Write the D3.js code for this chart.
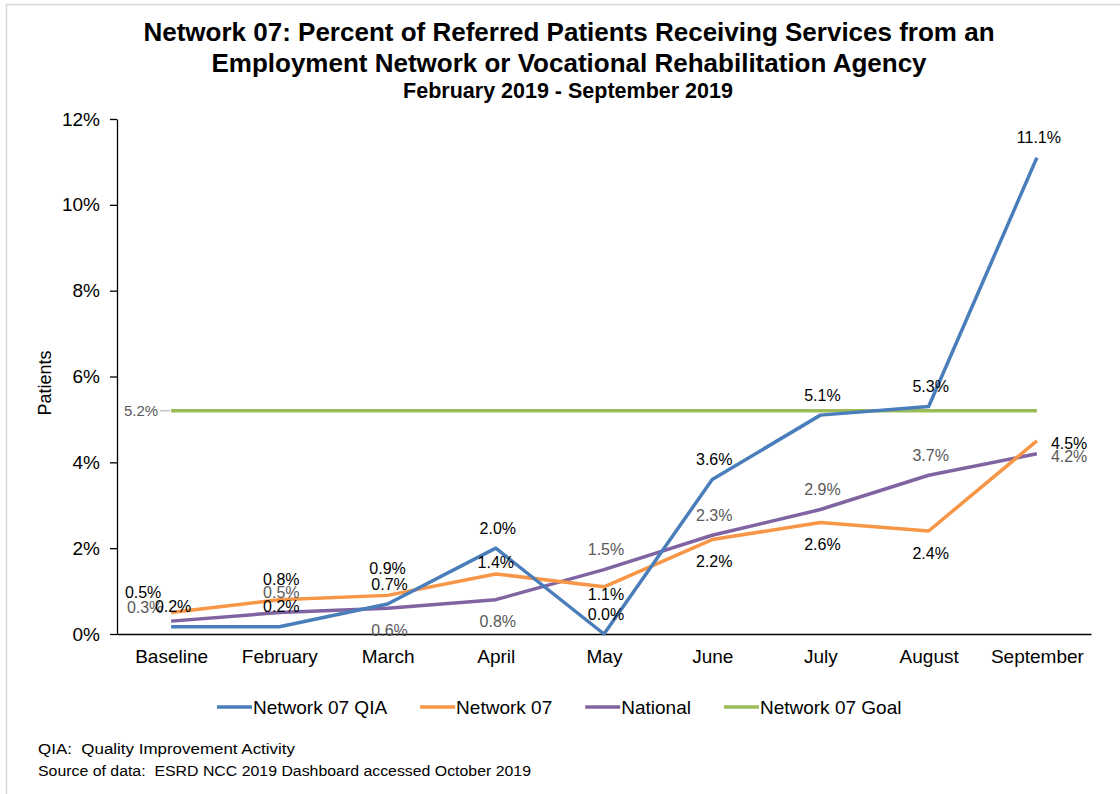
<!DOCTYPE html>
<html>
<head>
<meta charset="utf-8">
<script src="https://cdn.jsdelivr.net/npm/d3@7"></script>
<style>
body { margin:0; background:#fff; }
svg { font-family:"Liberation Sans", Arial, sans-serif; }
.yax text, .xax text { font-size:19px; fill:#000; }
.yax path, .yax line, .xax path { stroke:#000; stroke-width:1.3; }
.lbl { font-size:16px; }
</style>
</head>
<body>
<div id="chart"></div>
<script>

var categories = ["Baseline","February","March","April","May","June","July","August","September"];
var qia      = [0.17, 0.17, 0.7, 2.0, 0.0, 3.6, 5.1, 5.3, 11.1];
var network  = [0.5, 0.8, 0.9, 1.4, 1.1, 2.2, 2.6, 2.4, 4.5];
var national = [0.3, 0.5, 0.6, 0.8, 1.5, 2.3, 2.9, 3.7, 4.2];
var goal     = [5.2, 5.2, 5.2, 5.2, 5.2, 5.2, 5.2, 5.2, 5.2];
var yTicks   = [0, 2, 4, 6, 8, 10, 12];
var seriesNames = ["Network 07 QIA", "Network 07", "National", "Network 07 Goal"];

// where each data label sits relative to its point
var qiaLabelPos      = ["t","t","t","t","t","t","t","t","t"];
var networkLabelPos  = ["tl","t","t2","ts","bs","b","b","b","r"];
var nationalLabelPos = ["l","t","b","b","t","t","t","t","r"];

var W = 1120, H = 794;
var pLeft = 117, pRight = 1091, pTop = 119, pBottom = 634;

var svg = d3.select("#chart").append("svg")
	.attr("width", W)
	.attr("height", H);

// frame
svg.append("path").attr("d", "M6.5,794V4.5H1120")
	.attr("fill", "none").attr("stroke", "#d9d9d9").attr("stroke-width", 1.5);

var x = d3.scalePoint().domain(categories).range([pLeft, pRight]).padding(0.5);
var y = d3.scaleLinear().domain([0, 12]).range([pBottom, pTop]);

// titles
svg.append("text").attr("x", 569).attr("y", 41).attr("text-anchor", "middle")
	.style("font-size", "26px").style("font-weight", "bold")
	.text("Network 07: Percent of Referred Patients Receiving Services from an");
svg.append("text").attr("x", 569).attr("y", 72).attr("text-anchor", "middle")
	.style("font-size", "26px").style("font-weight", "bold")
	.text("Employment Network or Vocational Rehabilitation Agency");
svg.append("text").attr("x", 568).attr("y", 98).attr("text-anchor", "middle")
	.style("font-size", "21.5px").style("font-weight", "bold")
	.text("February 2019 - September 2019");

svg.append("g").attr("class", "yax")
	.attr("transform", "translate(" + pLeft + ",0)")
	.call(d3.axisLeft(y).tickValues(yTicks).tickSize(7).tickSizeOuter(0).tickPadding(10)
		.tickFormat(function(d) { return d + "%"; }));

svg.append("g").attr("class", "xax")
	.attr("transform", "translate(0," + pBottom + ")")
	.call(d3.axisBottom(x).tickSize(0).tickPadding(16));

svg.append("text")
	.attr("transform", "translate(51,383) rotate(-90)")
	.attr("text-anchor", "middle")
	.style("font-size", "18px")
	.text("Patients");

var valueline = d3.line()
	.x(function(d, i) { return x(categories[i]); })
	.y(function(d) { return y(d); });

var series = [
	{ v: qia,      c: "#4a7ebb", lc: "#000",    pos: qiaLabelPos },
	{ v: network,  c: "#f79646", lc: "#000",    pos: networkLabelPos },
	{ v: national, c: "#8064a2", lc: "#595959", pos: nationalLabelPos },
	{ v: goal,     c: "#9bbb59", lc: "#595959", pos: null }
];

var drawOrder = [3, 2, 1, 0];
drawOrder.forEach(function(k) {
	svg.append("path").datum(series[k].v)
		.attr("fill", "none")
		.attr("stroke", series[k].c)
		.attr("stroke-width", 3.5)
		.attr("stroke-linejoin", "round")
		.attr("d", valueline);
});

var offs = {
	t:  [2, -20, "middle"],
	t2: [0, -27, "middle"],
	ts: [0, -12, "middle"],
	b:  [2, 22, "middle"],
	bs: [2, 8, "middle"],
	r:  [14, 3, "start"],
	l:  [-26, -14, "middle"],
	tl: [-28, -20, "middle"]
};

[2, 1, 0].forEach(function(k) {
	var s = series[k];
	svg.append("g").selectAll("text").data(s.v).enter().append("text")
		.attr("class", "lbl")
		.attr("x", function(d, i) { return x(categories[i]) + offs[s.pos[i]][0]; })
		.attr("y", function(d, i) { return y(d) + offs[s.pos[i]][1]; })
		.attr("dy", "0.35em")
		.attr("text-anchor", function(d, i) { return offs[s.pos[i]][2]; })
		.attr("fill", s.lc)
		.text(function(d) { return d.toFixed(1) + "%"; });
});

// goal label with its short leader
var gx = x(categories[0]), gy = y(goal[0]);
svg.append("line").attr("x1", gx - 11).attr("x2", gx - 1).attr("y1", gy).attr("y2", gy)
	.attr("stroke", "#a6a6a6").attr("stroke-width", 1);
svg.append("text").attr("class", "lbl")
	.attr("x", gx - 13).attr("y", gy).attr("dy", "0.35em")
	.attr("text-anchor", "end").attr("fill", "#595959")
	.style("font-size", "15px")
	.text(goal[0].toFixed(1) + "%");

// legend
var lx = 217, ly = 707;
series.forEach(function(s, i) {
	svg.append("line").attr("x1", lx).attr("x2", lx + 35).attr("y1", ly).attr("y2", ly)
		.attr("stroke", s.c).attr("stroke-width", 3.5);
	var t = svg.append("text").attr("x", lx + 36).attr("y", ly).attr("dy", "0.35em")
		.style("font-size", "19px")
		.text(seriesNames[i]);
	lx = lx + 36 + t.node().getComputedTextLength() + 33;
});

svg.append("text").attr("x", 38).attr("y", 754)
	.style("font-size", "14px").style("white-space", "pre")
	.attr("textLength", 257).attr("lengthAdjust", "spacingAndGlyphs")
	.text("QIA:  Quality Improvement Activity");
svg.append("text").attr("x", 38).attr("y", 776)
	.style("font-size", "14px").style("white-space", "pre")
	.attr("textLength", 493).attr("lengthAdjust", "spacingAndGlyphs")
	.text("Source of data:  ESRD NCC 2019 Dashboard accessed October 2019");

</script>
</body>
</html>
